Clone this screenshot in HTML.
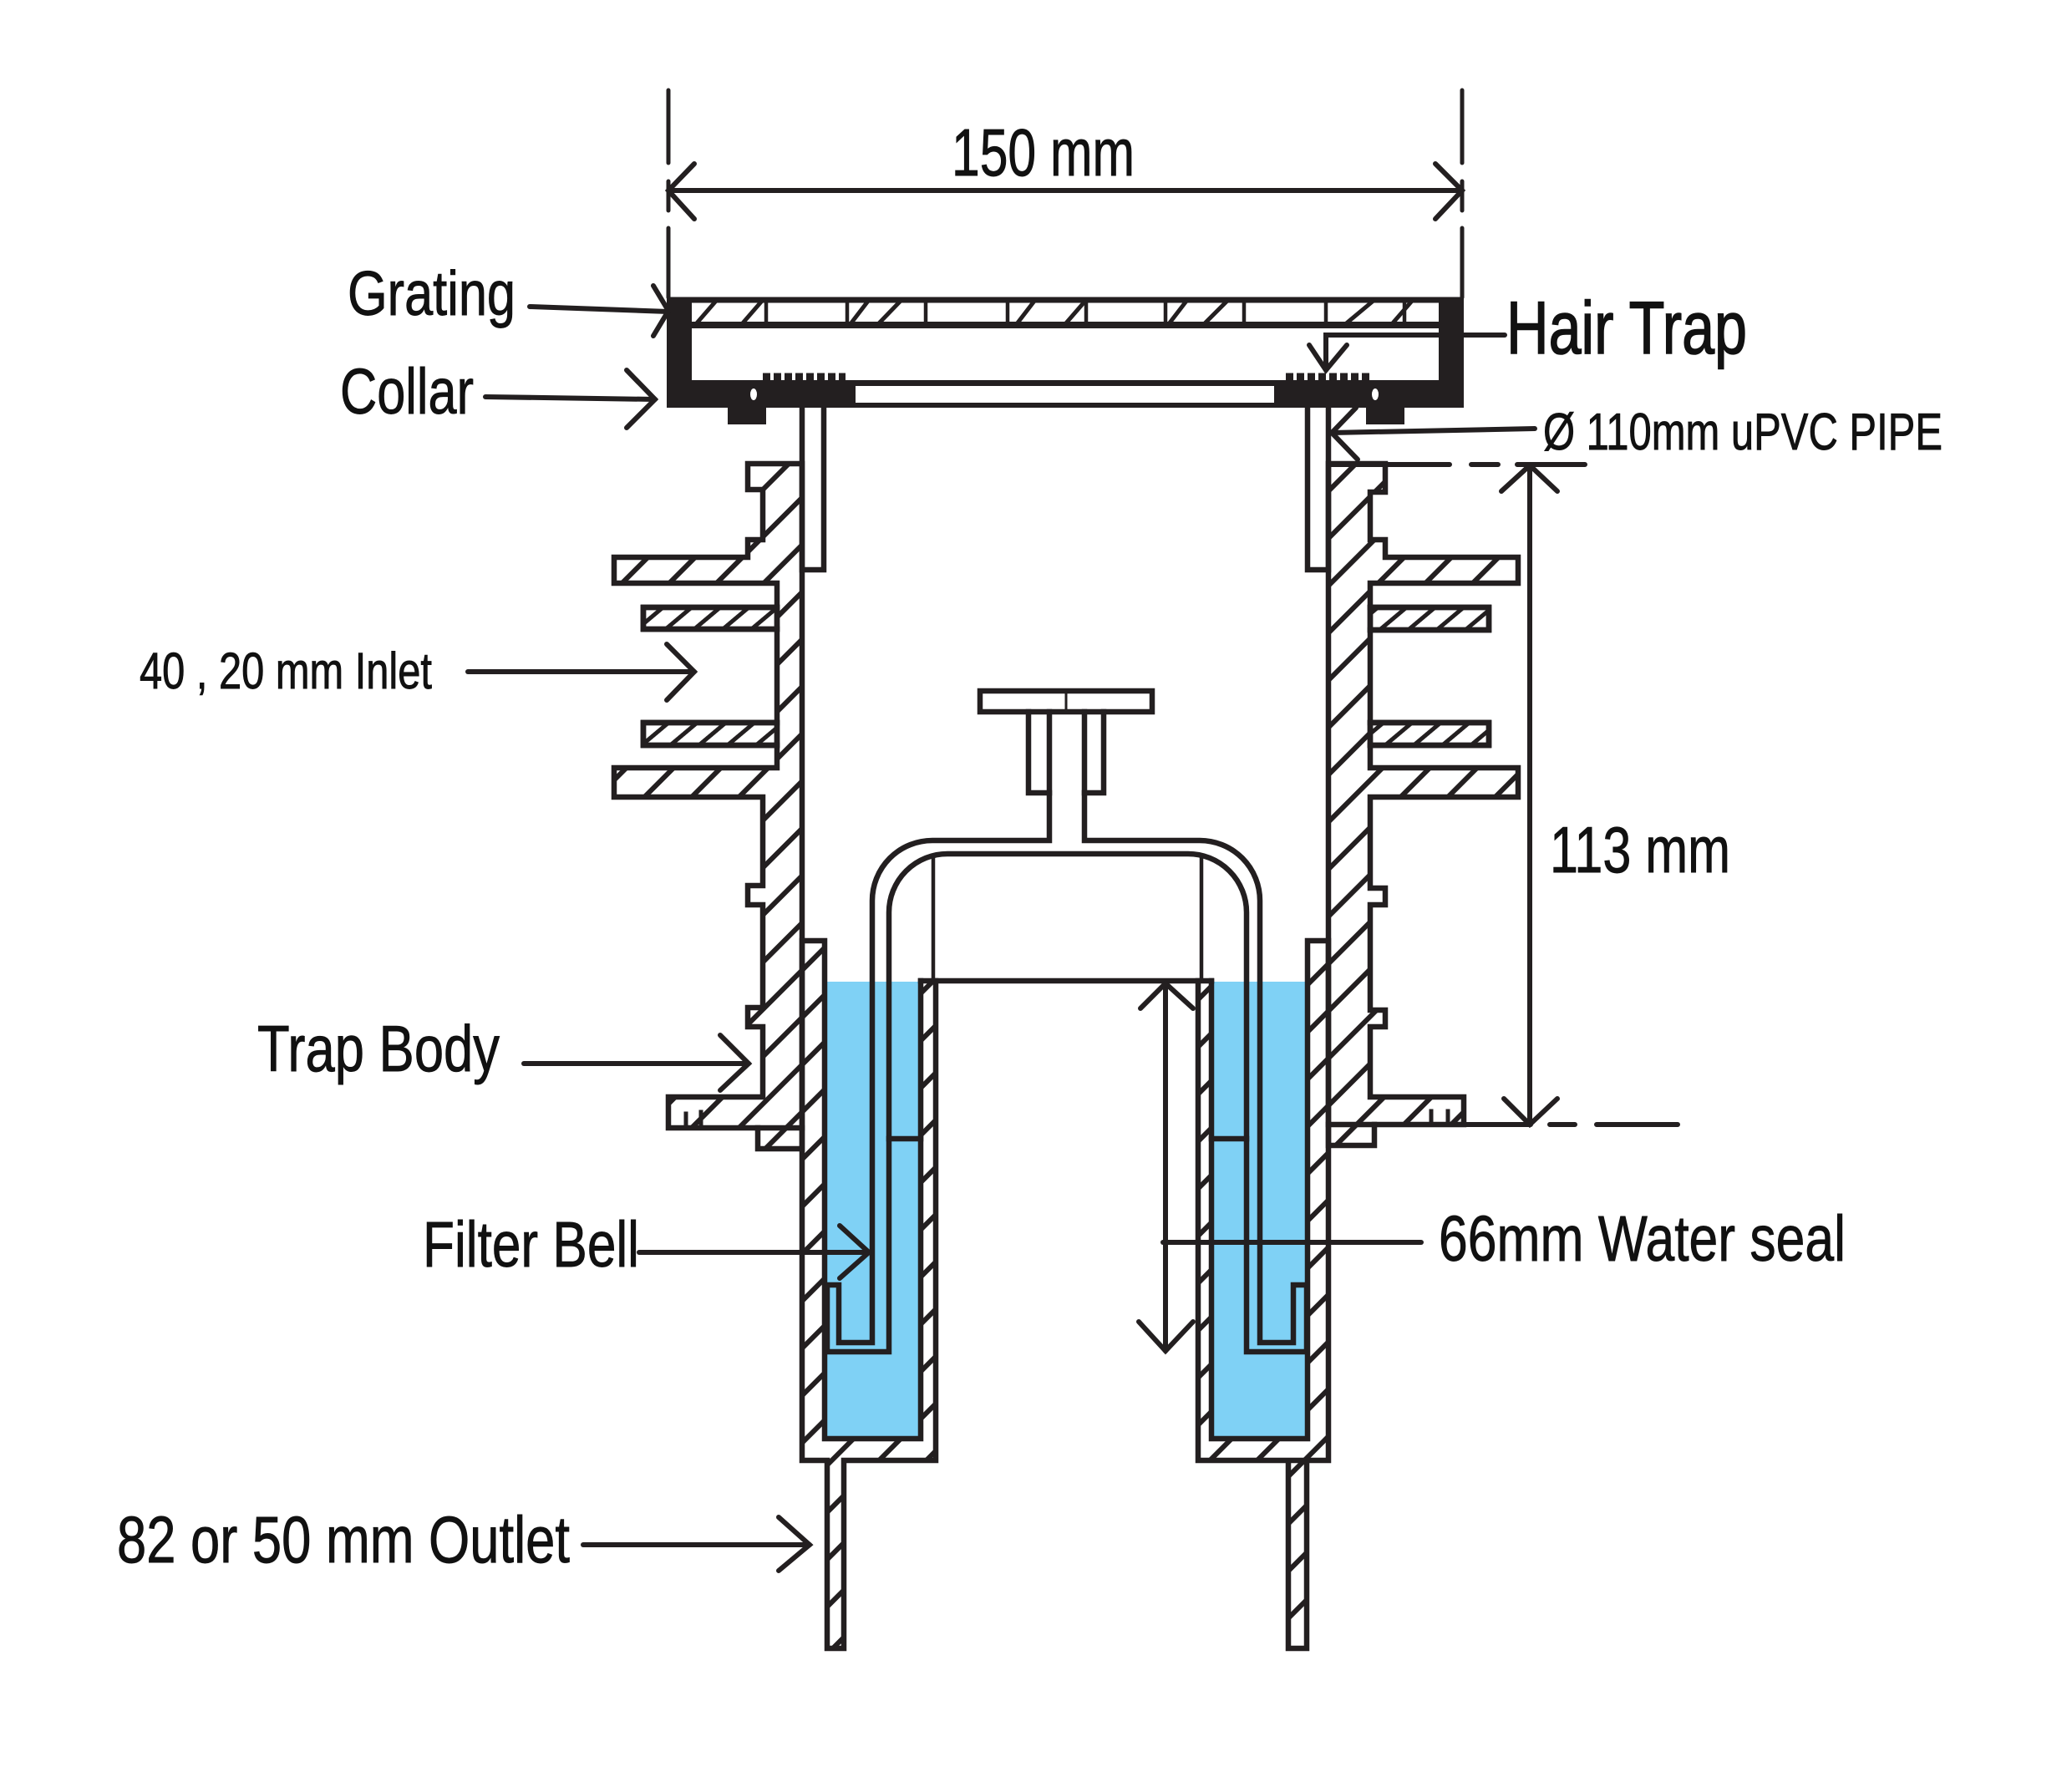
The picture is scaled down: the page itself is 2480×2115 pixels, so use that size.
<!DOCTYPE html>
<html><head><meta charset="utf-8">
<style>
html,body{margin:0;padding:0;background:#fff;}
svg{display:block;}
text{font-family:"Liberation Sans",Arial,sans-serif;fill:#111;stroke:#111;stroke-width:0.9;}
</style></head><body>
<svg width="2480" height="2115" viewBox="0 0 2480 2115" xmlns="http://www.w3.org/2000/svg">
<defs>
<pattern id="hw" patternUnits="userSpaceOnUse" width="40" height="40" patternTransform="rotate(-45)"><rect x="0" y="17" width="40" height="6" fill="#231f20"/></pattern>
<pattern id="hs" patternUnits="userSpaceOnUse" width="22" height="22" patternTransform="rotate(-40)"><rect x="0" y="8.5" width="22" height="5" fill="#231f20"/></pattern>
</defs>
<rect width="2480" height="2115" fill="#fff"/>

<!-- water -->
<rect x="987" y="1175" width="115" height="547" fill="#7fd1f5"/>
<rect x="1450" y="1175" width="115" height="547" fill="#7fd1f5"/>

<g stroke="#231f20" stroke-width="6.5" stroke-linejoin="miter">
<!-- left trap body -->
<path d="M960,555 H895 V586 H913 V646 H895 V667 H735 V698 H930 V727 H770 V753 H930 V865 H770 V892 H930 V919 H735 V954 H913 V1060 H895 V1083 H913 V1206 H895 V1229 H913 V1313 H800 V1350 H907 V1375 H960 Z" fill="url(#hw)"/>
<rect x="770" y="727" width="160" height="26" fill="#fff"/>
<rect x="770" y="727" width="160" height="26" fill="url(#hs)"/>
<rect x="770" y="865" width="160" height="27" fill="#fff"/>
<rect x="770" y="865" width="160" height="27" fill="url(#hs)"/>
<!-- right trap body -->
<path d="M1590,555 H1658 V589 H1640 V646 H1658 V667 H1817 V698 H1640 V727 H1782 V754 H1640 V865 H1782 V892 H1640 V919 H1817 V954 H1640 V1063 H1658 V1083 H1640 V1209 H1658 V1229 H1640 V1313 H1752 V1346 H1645 V1371 H1590 Z" fill="url(#hw)"/>
<rect x="1640" y="727" width="142" height="27" fill="#fff"/>
<rect x="1640" y="727" width="142" height="27" fill="url(#hs)"/>
<rect x="1640" y="865" width="142" height="27" fill="#fff"/>
<rect x="1640" y="865" width="142" height="27" fill="url(#hs)"/>
</g>

<!-- cups hatched fills -->
<path d="M960,1126 H987 V1722 H1102 V1174 H1120 V1748 H960 Z" fill="url(#hw)"/>
<path d="M1590,1126 H1565 V1722 H1450 V1174 H1434 V1748 H1590 Z" fill="url(#hw)"/>
<rect x="990" y="1748" width="20" height="225" fill="url(#hw)"/>
<rect x="1542" y="1748" width="22" height="225" fill="url(#hw)"/>

<g fill="none" stroke="#231f20" stroke-width="6.5" stroke-linejoin="miter" stroke-linecap="square">
<!-- flange bottom closures & slots -->
<path d="M907,1350 H960 M1590,1346 H1645"/>
<path d="M821,1350 V1333 M839,1350 V1331 M1713,1346 V1330 M1733,1346 V1330" stroke-width="5"/>
<!-- pipes -->
<path d="M960,488 V682 H986 V488"/>
<path d="M1590,488 V682 H1565 V488"/>
<!-- cups outline -->
<path d="M960,1126 H987 V1722 H1102 V1174 M1120,1174 V1748 H1010 V1973 H990 V1748 H960 V1126"/>
<path d="M1590,1126 H1565 V1722 H1450 V1174 M1434,1174 V1748 H1564 V1973 H1542 V1748 H1590 V1126"/>
<path d="M1102,1174 H1450"/>
<!-- bell -->
<path d="M1044,1607 V1078 A72,72 0 0 1 1116,1006 H1256 V852 M1298,852 V1006 H1436 A72,72 0 0 1 1508,1078 V1607 H1548 V1538 H1564 V1618 H1492 V1092 A70,70 0 0 0 1422,1022 H1134 A70,70 0 0 0 1064,1092 V1618 H990 V1538 H1004 V1607 H1044"/>
<rect x="1173" y="827" width="206" height="25"/>
<path d="M1231,852 V949 H1256 M1321,852 V949 H1298"/>
<path d="M1276,829 V850" stroke-width="3"/>
<path d="M1117,1025 V1174 M1438,1025 V1174" stroke-width="4.5"/>
<path d="M1064,1363 H1102 M1450,1363 H1492"/>
</g>

<!-- collar / grating -->
<g fill="#231f20">
<rect x="798" y="356" width="30" height="132"/>
<rect x="1722" y="356" width="30" height="132"/>
<rect x="798" y="455" width="226" height="33"/>
<rect x="1525" y="455" width="227" height="33"/>
<rect x="1024" y="455" width="501" height="7"/>
<rect x="1024" y="482" width="501" height="6"/>
<rect x="871" y="488" width="46" height="20"/>
<rect x="1635" y="488" width="46" height="20"/>
</g>
<ellipse cx="902" cy="472" rx="4" ry="7" fill="#fff"/>
<ellipse cx="1646" cy="472" rx="4" ry="7" fill="#fff"/>
<g stroke="#231f20" fill="none">
<path d="M913,451 H1012 M1539,451 H1639" stroke-width="9" stroke-dasharray="9 4"/>
<path d="M800,359 H1750" stroke-width="7"/>
<path d="M800,389 H1750" stroke-width="8"/>
<path d="M917,359 V389 M1014,359 V389 M1108,359 V389 M1206,359 V389 M1300,359 V389 M1395,359 V389 M1489,359 V389 M1587,359 V389 M1681,359 V389" stroke-width="4.5"/>
<path d="M832,389 L858,359 M887,389 L913,359 M1017,389 L1040,359 M1050,389 L1079,359 M1216,389 L1239,359 M1274,389 L1300,359 M1398,389 L1421,359 M1440,389 L1470,359 M1609,389 L1645,359 M1665,389 L1691,359" stroke-width="5"/>
</g>

<!-- dimensions & leaders -->
<g fill="none" stroke="#231f20" stroke-width="6" stroke-linecap="round" stroke-linejoin="miter">
<path d="M800,108 V195 M800,217 V252 M800,273 V356 M1750,108 V195 M1750,217 V252 M1750,273 V356" stroke-width="5"/>
<path d="M800,228 H1750"/>
<path d="M831,196 L800,228 L831,262 M1718,196 L1750,228 L1718,262"/>
<!-- 113 -->
<path d="M1831,557 V1346"/>
<path d="M1797,588 L1831,557 L1864,588 M1800,1315 L1831,1346 L1864,1315"/>
<path d="M1591,556 H1735 M1761,556 H1793 M1816,556 H1897"/>
<path d="M1752,1346 H1832 M1855,1346 H1885 M1911,1346 H2008"/>
<!-- water seal -->
<path d="M1395,1177 V1617"/>
<path d="M1365,1207 L1395,1177 L1428,1207 M1363,1582 L1395,1617 L1428,1582"/>
<path d="M1392,1487 H1701"/>
<!-- grating -->
<path d="M634,367 L800,373"/>
<path d="M782,342 L800,372 L782,402"/>
<!-- collar -->
<path d="M581,475 L784,478"/>
<path d="M750,443 L784,478 L750,512"/>
<!-- hair trap -->
<path d="M1801,401 H1587 V443"/>
<path d="M1567,413 L1587,443 L1612,413"/>
<!-- pipe -->
<path d="M1837,513 L1594,518"/>
<path d="M1623,488 L1594,518 L1625,550"/>
<!-- inlet -->
<path d="M560,804 H831"/>
<path d="M798,771 L831,804 L798,838"/>
<!-- trap body -->
<path d="M627,1273 H896"/>
<path d="M862,1239 L896,1273 L862,1305"/>
<!-- filter bell -->
<path d="M765,1499 H1040"/>
<path d="M1005,1467 L1040,1499 L1005,1530"/>
<!-- outlet -->
<path d="M698,1849 H969"/>
<path d="M932,1816 L969,1849 L932,1880"/>
</g>

<!-- labels -->
<text x="1139" y="210" font-size="80" textLength="219" lengthAdjust="spacingAndGlyphs">150 mm</text>
<text x="416" y="377" font-size="75" textLength="201" lengthAdjust="spacingAndGlyphs">Grating</text>
<text x="407" y="495" font-size="77" textLength="160" lengthAdjust="spacingAndGlyphs">Collar</text>
<text x="1803" y="423" font-size="89" textLength="288" lengthAdjust="spacingAndGlyphs" style="stroke-width:1.6">Hair Trap</text>
<text x="1847" y="538" font-size="62" textLength="478" lengthAdjust="spacingAndGlyphs">Ø 110mm uPVC PIPE</text>
<text x="167" y="824" font-size="61" textLength="350" lengthAdjust="spacingAndGlyphs">40 , 20 mm Inlet</text>
<text x="1855" y="1044" font-size="78" textLength="216" lengthAdjust="spacingAndGlyphs">113 mm</text>
<text x="308" y="1282" font-size="78" textLength="290" lengthAdjust="spacingAndGlyphs">Trap Body</text>
<text x="506" y="1516" font-size="77" textLength="259" lengthAdjust="spacingAndGlyphs">Filter Bell</text>
<text x="1722" y="1509" font-size="77" textLength="487" lengthAdjust="spacingAndGlyphs">66mm Water seal</text>
<text x="140" y="1870" font-size="79" textLength="542" lengthAdjust="spacingAndGlyphs">82 or 50 mm Outlet</text>
</svg>
</body></html>
